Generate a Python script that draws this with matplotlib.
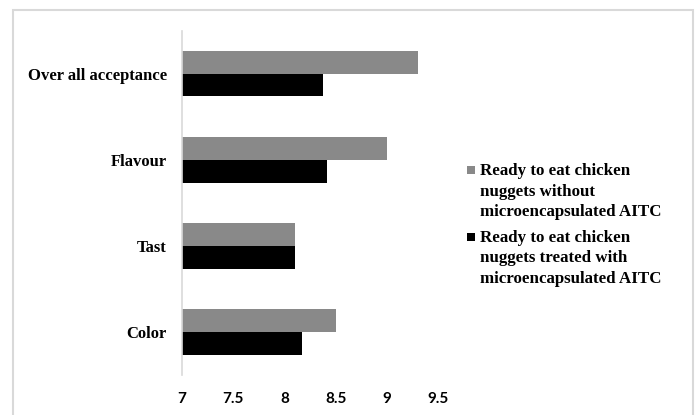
import matplotlib
matplotlib.use("Agg")
import matplotlib.pyplot as plt
from matplotlib.patches import Rectangle
import numpy as np

# Sensory scores of ready-to-eat chicken nuggets
categories = ["Color", "Tast", "Flavour", "Over all acceptance"]
without_aitc = [8.5, 8.1, 9.0, 9.3]
treated_aitc = [8.17, 8.1, 8.42, 8.38]
series_labels = [
    ["Ready to eat chicken", "nuggets without", "microencapsulated AITC"],
    ["Ready to eat chicken", "nuggets treated with", "microencapsulated AITC"],
]
x_ticks = [7, 7.5, 8, 8.5, 9, 9.5]
x_tick_labels = ["7", "7.5", "8", "8.5", "9", "9.5"]

GRAY = "#898989"
BLACK = "#000000"
W, H = 700, 415

fig = plt.figure(figsize=(W / 100, H / 100), dpi=100)
fig.patch.set_facecolor("white")

ax = fig.add_axes([182 / W, 1 - 375 / H, (438 - 182) / W, (375 - 30.7) / H])

y = np.arange(len(categories))
bar_h = 0.264
base = 7
ax.barh(y + bar_h / 2, np.array(without_aitc) - base, left=base, height=bar_h,
        color=GRAY, edgecolor="none")
ax.barh(y - bar_h / 2, np.array(treated_aitc) - base, left=base, height=bar_h,
        color=BLACK, edgecolor="none")

ax.set_xlim(7, 9.5)
ax.set_ylim(-0.5, 3.5)
ax.set_xticks(x_ticks)
ax.set_xticklabels(x_tick_labels, fontfamily=["Lato", "DejaVu Sans"],
                   fontweight="bold", fontsize=11)
ax.set_yticks(y)
ax.set_yticklabels(categories, fontfamily=["Liberation Serif", "DejaVu Serif"],
                   fontweight="bold", fontsize=12)
ax.tick_params(axis="x", length=0, pad=12)
ax.tick_params(axis="y", length=0, pad=11)

for side in ["top", "right", "bottom"]:
    ax.spines[side].set_visible(False)
ax.spines["left"].set_color("#d9d9d9")
ax.spines["left"].set_linewidth(1.2)

# Legend drawn as swatches with wrapped labels
legend_font = dict(fontfamily=["Liberation Serif", "DejaVu Serif"],
                   fontweight="bold", fontsize=12.2)
colors = [GRAY, BLACK]
first_baselines = [175, 242]
line_step = 20.5
for lines, col, base_y in zip(series_labels, colors, first_baselines):
    fig.add_artist(Rectangle((467.5 / W, 1 - (base_y - 1) / H), 8 / W, 8 / H,
                             transform=fig.transFigure, facecolor=col,
                             edgecolor="none"))
    for i, txt in enumerate(lines):
        fig.text(480 / W, 1 - (base_y + i * line_step) / H, txt,
                 ha="left", va="baseline", **legend_font)

# Chart area border
fig.add_artist(Rectangle((12.7 / W, -0.1), (693 - 12.7) / W, 1.1 - 10 / H,
                         transform=fig.transFigure, fill=False,
                         edgecolor="#d9d9d9", linewidth=1.5))

fig.savefig("out.png", dpi=100, facecolor="white")
